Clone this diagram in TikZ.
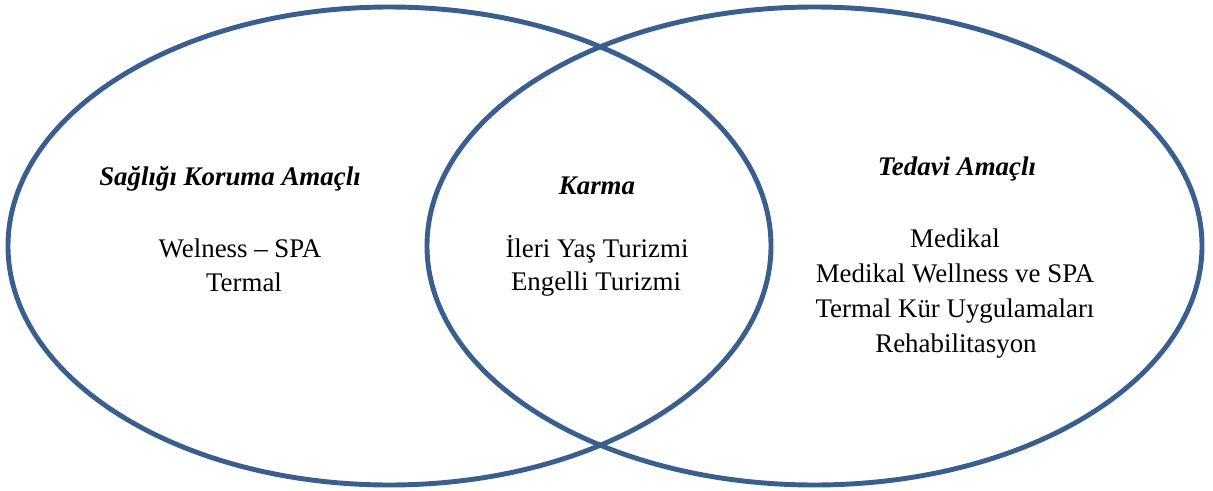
\documentclass[tikz,border=0pt]{standalone}
\usepackage{fontspec}
\setmainfont{Liberation Serif}
\definecolor{ringblue}{HTML}{3A5E8E}
\begin{document}
\begin{tikzpicture}[x=0.02cm,y=-0.02cm,
  ring/.style={draw=ringblue,line width=2.8pt},
  head/.style={anchor=base,inner sep=0pt,font=\fontsize{15.3}{18}\selectfont\bfseries\itshape},
  item/.style={anchor=base,inner sep=0pt,font=\fontsize{15.3}{18}\selectfont}]
\useasboundingbox (0,0) rectangle (1213,490);
% two overlapping circles of the diagram
\draw[ring] (389.5,246) ellipse [x radius=381.5, y radius=239];
\draw[ring] (814.5,246) ellipse [x radius=387.5, y radius=239];
% left part
\node[head] (h1) at (230,185) {Sağlığı Koruma Amaçlı};
\node[item] (a1) at (240,257) {Welness – SPA};
\node[item] (a2) at (244,291) {Termal};
% overlap
\node[head] (h2) at (597,194) {Karma};
\node[item] (b1) at (597,257) {İleri Yaş Turizmi};
\node[item] (b2) at (596,290) {Engelli Turizmi};
% right part
\node[head] (h3) at (957,175) {Tedavi Amaçlı};
\node[item] (c1) at (955,247) {Medikal};
\node[item] (c2) at (955,282) {Medikal Wellness ve SPA};
\node[item] (c3) at (955,317) {Termal Kür Uygulamaları};
\node[item] (c4) at (956,352) {Rehabilitasyon};
\end{tikzpicture}
\end{document}
